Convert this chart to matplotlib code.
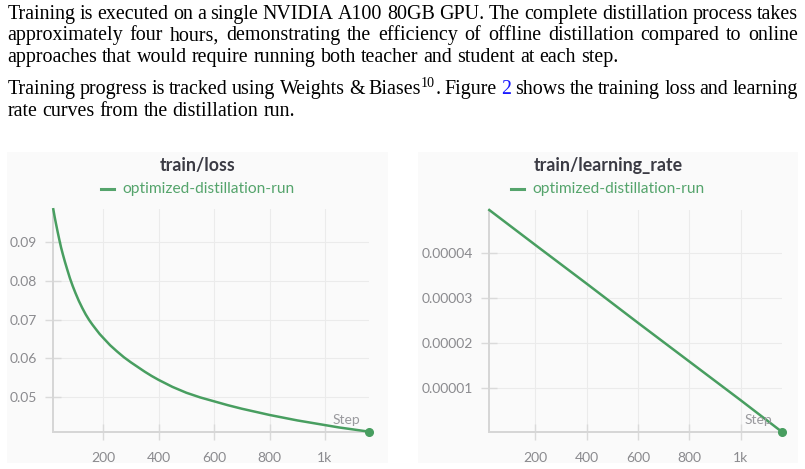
import numpy as np
import matplotlib.pyplot as plt
from matplotlib.patches import Rectangle

W, H = 805, 469

# --- data ---
loss_steps = [20, 25, 30, 36, 42, 48, 55, 62, 70, 80, 90, 100, 112, 125, 137, 150,
              162, 175, 187, 200, 225, 250, 275, 300, 325, 350, 375, 400, 450, 500,
              550, 600, 650, 700, 750, 800, 850, 900, 950, 1000, 1050, 1100, 1160]
loss_vals = [0.0983, 0.0963, 0.0945, 0.0924, 0.0904, 0.0885, 0.0866, 0.0848, 0.0829,
             0.0806, 0.0786, 0.0768, 0.0748, 0.0729, 0.0713, 0.0698, 0.0686, 0.0674,
             0.0663, 0.0653, 0.0634, 0.0618, 0.0603, 0.0590, 0.0578, 0.0566, 0.0555,
             0.0545, 0.0527, 0.0512, 0.0500, 0.0490, 0.0480, 0.0471, 0.0463, 0.0455,
             0.0448, 0.0441, 0.0435, 0.0429, 0.0423, 0.0418, 0.0412]

lr_steps = [20, 200, 400, 600, 800, 1000, 1160]
lr_vals = [4.96e-5, 4.18e-5, 3.32e-5, 2.45e-5, 1.59e-5, 0.73e-5, 0.03e-5]

x_ticks = [200, 400, 600, 800, 1000]
x_labels = ['200', '400', '600', '800', '1k']
loss_ticks = [0.05, 0.06, 0.07, 0.08, 0.09]
lr_ticks = [1e-5, 2e-5, 3e-5, 4e-5]

run_name = 'optimized-distillation-run'

para1 = ["Training is executed on a single NVIDIA A100 80GB GPU. The complete distillation process takes",
         "approximately four hours, demonstrating the efficiency of offline distillation compared to online",
         "approaches that would require running both teacher and student at each step."]
para2 = ["Training progress is tracked using Weights & Biases|10|. Figure 2 shows the training loss and learning",
         "rate curves from the distillation run."]

green = '#489e60'
green_txt = '#55a46c'
grey_lbl = '#8a8a8e'

plt.rcParams['font.family'] = ['Lato', 'DejaVu Sans']

fig = plt.figure(figsize=(W / 100, H / 100), dpi=100)
fig.patch.set_facecolor('white')
r = fig.canvas.get_renderer()


def fx(x):
    return x / W


def fy(y):
    return 1 - y / H


# --- paragraph text, justified by hand ---
fs = 14.4
left_x, right_x = 7.3, 798


def draw_line(line, y, justify):
    items = []
    for word in line.split(' '):
        arts = []
        parts = word.split('|')
        for k, p in enumerate(parts):
            if p == '':
                continue
            sup = (k % 2 == 1)
            col = 'black'
            if word == '2':
                col = '#1a1aff'
            t = fig.text(0, fy(y - (7 if sup else 0)), p, fontsize=fs * 0.7 if sup else fs,
                         family='Liberation Serif', color=col, va='baseline', ha='left')
            arts.append((t, t.get_window_extent(r).width))
        items.append(arts)
    widths = [sum(w for _, w in a) for a in items]
    if justify:
        gap = (right_x - left_x - sum(widths)) / (len(items) - 1)
    else:
        gap = fs * 100 / 72 * 0.25
    x = left_x
    for a in items:
        for t, w in a:
            t.set_x(fx(x))
            x += w
        x += gap


for i, ln in enumerate(para1):
    draw_line(ln, 19 + i * 21.3, i < len(para1) - 1)
for i, ln in enumerate(para2):
    draw_line(ln, 94.3 + i * 21.7, i < len(para2) - 1)


# --- the two W&B panels ---
def panel(px0, px1, ax_box, steps, vals, yticks, yfmt, title):
    fig.add_artist(Rectangle((fx(px0), fy(463)), (px1 - px0) / W, (463 - 152) / H,
                             transform=fig.transFigure, facecolor='#fafafa',
                             edgecolor='none', zorder=0))
    cx = (px0 + px1) / 2
    fig.text(fx(cx), fy(165), title, ha='center', va='center', fontsize=12.8,
             fontweight='bold', color='#3b3b44')
    t = fig.text(0, fy(189), run_name, ha='left', va='center', fontsize=11.2, color=green_txt)
    tw = t.get_window_extent(r).width
    total = 13 + 8 + tw
    x0 = cx - total / 2
    t.set_x(fx(x0 + 21))
    fig.add_artist(plt.Line2D([fx(x0), fx(x0 + 13)], [fy(189), fy(189)], color=green_txt,
                              lw=2.2, transform=fig.transFigure))

    l, rr, top, bot = ax_box
    ax = fig.add_axes([fx(l), fy(bot), (rr - l) / W, (bot - top) / H])
    ax.set_facecolor('none')
    ax.plot(steps, vals, color=green, lw=1.8, clip_on=False, zorder=3)
    ax.plot(steps[-1], vals[-1], 'o', ms=5.5, color=green, clip_on=False, zorder=4)
    ax.set_xlim(steps[0], steps[-1])
    ax.set_ylim(min(vals), max(vals))
    ax.set_xticks(x_ticks)
    ax.set_xticklabels(x_labels)
    ax.set_yticks(yticks)
    ax.set_yticklabels([yfmt % v for v in yticks])
    ax.grid(True, color='#ebebeb', lw=0.8)
    ax.set_axisbelow(True)
    for s in ['top', 'right']:
        ax.spines[s].set_visible(False)
    for s in ['left', 'bottom']:
        ax.spines[s].set_color('#d6d6d6')
        ax.spines[s].set_linewidth(1.4)
    ax.tick_params(direction='inout', length=11, width=1, color='#dadada',
                   labelcolor=grey_lbl, labelsize=10, pad=6)
    ax.tick_params(axis='x', pad=9)
    ax.annotate('Step', xy=(1, 0), xycoords='axes fraction', xytext=(-9, 6),
                textcoords='offset pixels', ha='right', va='bottom',
                fontsize=10, color='#9a9a9e')
    return ax


panel(7, 388, (53.3, 369.3, 209.3, 431.7), loss_steps, loss_vals, loss_ticks,
      '%.2f', 'train/loss')
panel(418, 798, (489.3, 781.7, 210, 431.7), lr_steps, lr_vals, lr_ticks,
      '%.5f', 'train/learning_rate')

fig.savefig('out.png', dpi=100)
